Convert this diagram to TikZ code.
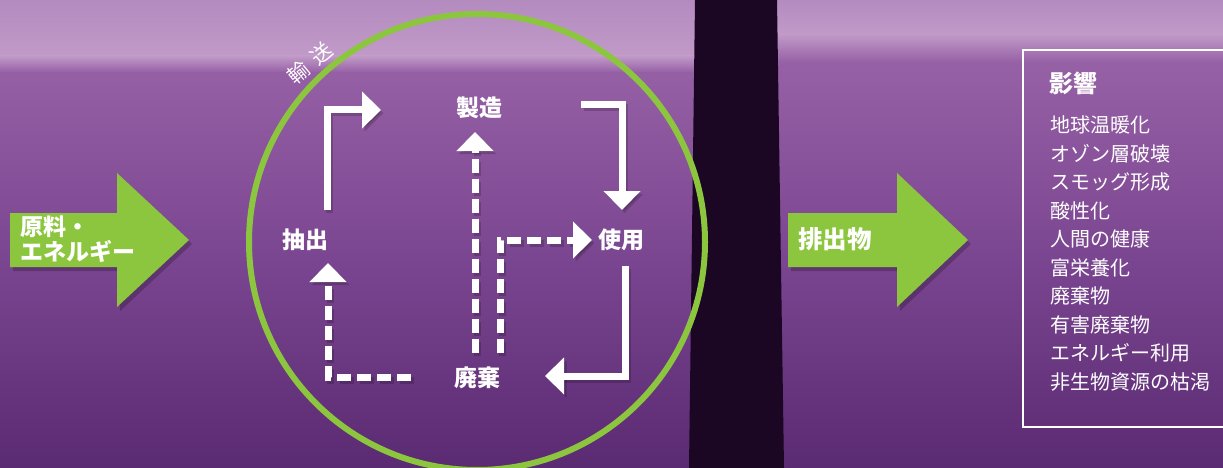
\documentclass[tikz,border=0pt]{standalone}
\usepackage{fontspec}
\newfontfamily\jp{Noto Sans CJK JP}
\usetikzlibrary{arrows.meta}
\definecolor{grn}{HTML}{8CC63F}
\definecolor{bgtop}{HTML}{B38BBF}
\definecolor{bgband}{HTML}{C19AC8}
\definecolor{bgmid}{HTML}{9761A6}
\definecolor{bglow}{HTML}{7A4590}
\definecolor{bgbot}{HTML}{5A2A72}
\definecolor{pillar}{HTML}{1B0623}
\begin{document}
\begin{tikzpicture}[x=1pt,y=-1pt,
  lbl/.style={text=white, inner sep=0pt, font=\jp\bfseries\fontsize{23}{25}\selectfont},
  arrowlbl/.style={text=white, inner sep=0pt, align=left, font=\jp\bfseries\fontsize{23}{25}\selectfont},
  item/.style={text=white, inner sep=0pt, anchor=base west, font=\jp\fontsize{20}{24}\selectfont},
  flow/.style={draw=white, line width=7pt, line join=miter, -{Triangle[width=36pt,length=19pt]}},
  dflow/.style={flow, dash pattern=on 14pt off 6pt},
  shade flow/.style={draw=black, opacity=.18, line width=7pt, line join=miter, -{Triangle[width=36pt,length=19pt]}},
  dshade flow/.style={shade flow, dash pattern=on 14pt off 6pt},
  bigarrow/.style={fill=grn},
  bigshadow/.style={fill=black, opacity=.22}
]
\useasboundingbox (0,0) rectangle (1223,468);
% background
\fill[top color=bgmid, bottom color=bgbot, middle color=bglow] (0,60) rectangle (1223,468);
\fill[top color=bgtop, bottom color=bgband] (0,0) rectangle (695,56);
\fill[top color=bgband, bottom color=bgmid] (0,56) rectangle (695,72);
\fill[top color=bgtop, bottom color=bgband] (777,0) rectangle (1223,34);
\fill[top color=bgband, bottom color=bgmid] (777,34) rectangle (1223,62);
% dark pillar
\fill[pillar] (695,0) -- (777,0) -- (784,468) -- (689,468) -- cycle;
% circle
\draw[grn, line width=6pt] (477,242) circle[radius=228];
\node[text=white, inner sep=0pt, rotate=40, font=\jp\fontsize{21}{22}\selectfont] (yuso) at (310,63) {輸\kern8pt 送};

% labels
\node[lbl] (seizo) at (479,108) {製造};
\node[lbl] (chushutsu) at (305,240) {抽出};
\node[lbl] (shiyo) at (621,240) {使用};
\node[lbl] (haiki) at (477,378) {廃棄};

% arrow coordinates
\coordinate (a1s) at (327,210); \coordinate (a1c) at (327,110); \coordinate (a1e) at (381,110);
\coordinate (a2s) at (581,105); \coordinate (a2c) at (622,105); \coordinate (a2e) at (622,210);
\coordinate (a3s) at (625,266); \coordinate (a3c) at (625,376); \coordinate (a3e) at (545,376);
\coordinate (a4s) at (411,377); \coordinate (a4c) at (328,377); \coordinate (a4e) at (328,263);
\coordinate (a5s) at (475,353); \coordinate (a5e) at (475,132);
\coordinate (a6s) at (500,353); \coordinate (a6c) at (500,240); \coordinate (a6e) at (592,240);

% shadows
\begin{scope}[transform canvas={shift={(2.5pt,-3pt)}}]
\draw[shade flow] (a1s) -- (a1c) -- (a1e);
\draw[shade flow] (a2s) -- (a2c) -- (a2e);
\draw[shade flow] (a3s) -- (a3c) -- (a3e);
\draw[dshade flow] (a4s) -- (a4c) -- (a4e);
\draw[dshade flow] (a5s) -- (a5e);
\draw[dshade flow] (a6s) -- (a6c) -- (a6e);
\end{scope}
% arrows
\draw[flow] (a1s) -- (a1c) -- (a1e);
\draw[flow] (a2s) -- (a2c) -- (a2e);
\draw[flow] (a3s) -- (a3c) -- (a3e);
\draw[dflow] (a4s) -- (a4c) -- (a4e);
\draw[dflow] (a5s) -- (a5e);
\draw[dflow] (a6s) -- (a6c) -- (a6e);

% big left arrow
\begin{scope}[shift={(3,4)}]
\fill[bigshadow] (10,213) -- (117,213) -- (117,173) -- (189,240) -- (117,307) -- (117,267) -- (10,267) -- cycle;
\end{scope}
\fill[bigarrow] (10,213) -- (117,213) -- (117,173) -- (189,240) -- (117,307) -- (117,267) -- (10,267) -- cycle;
\node[arrowlbl, anchor=west] (inputs) at (20,239) {原料・\\エネルギー};

% big right arrow
\begin{scope}[shift={(3,4)}]
\fill[bigshadow] (788,213) -- (897,213) -- (897,173) -- (968,240) -- (897,307) -- (897,267) -- (788,267) -- cycle;
\end{scope}
\fill[bigarrow] (788,213) -- (897,213) -- (897,173) -- (968,240) -- (897,307) -- (897,267) -- (788,267) -- cycle;
\node[lbl, anchor=west, font=\jp\bfseries\fontsize{24.5}{26}\selectfont] (emis) at (798,239) {排出物};

% impacts box
\draw[white, line width=2pt] (1240,50) -- (1023,50) -- (1023,427) -- (1240,427);
\node[text=white, inner sep=0pt, anchor=west, font=\jp\bfseries\fontsize{24}{26}\selectfont] (eikyo) at (1049,83) {影響};
\node[item] (i1) at (1050,132.5) {地球温暖化};
\node[item] (i2) at (1050,161) {オゾン層破壊};
\node[item] (i3) at (1050,189.5) {スモッグ形成};
\node[item] (i4) at (1050,218) {酸性化};
\node[item] (i5) at (1050,246.5) {人間の健康};
\node[item] (i6) at (1050,275) {富栄養化};
\node[item] (i7) at (1050,303.5) {廃棄物};
\node[item] (i8) at (1050,332) {有害廃棄物};
\node[item] (i9) at (1050,360.5) {エネルギー利用};
\node[item] (i10) at (1050,389) {非生物資源の枯渇};
\end{tikzpicture}
\end{document}
